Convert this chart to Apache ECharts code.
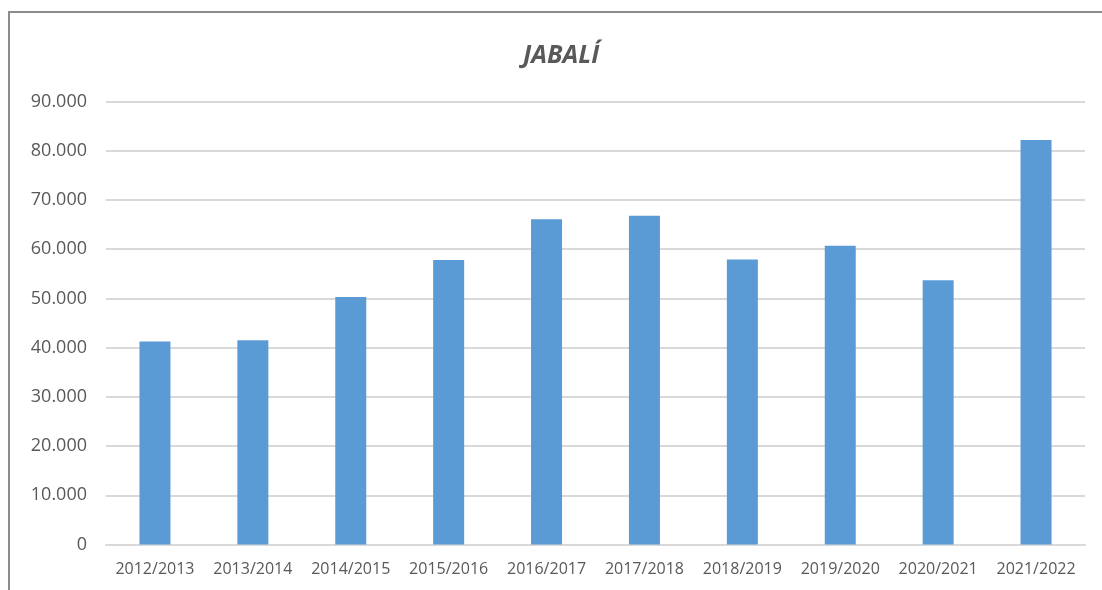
<!DOCTYPE html>
<html>
<head>
<meta charset="utf-8">
<script src="https://cdn.jsdelivr.net/npm/echarts@6/dist/echarts.min.js"></script>
<style>
    html, body { margin: 0; padding: 0; background: #fff; }
    #myChart { width: 1102px; height: 590px; }
</style>
</head>
<body>
<div id="myChart"></div>
<script>
    // temporadas y capturas de jabalí
    var temporadas = ['2012/2013', '2013/2014', '2014/2015', '2015/2016', '2016/2017',
        '2017/2018', '2018/2019', '2019/2020', '2020/2021', '2021/2022'];
    var capturas = [41250, 41500, 50300, 57800, 66100, 66800, 57900, 60700, 53700, 82200];
    var ticksY = [0, 10000, 20000, 30000, 40000, 50000, 60000, 70000, 80000, 90000];

    function fmt(v) {
        return String(v).replace(/\B(?=(\d{3})+(?!\d))/g, '.');
    }

    var myChart = echarts.init(document.getElementById('myChart'));
    myChart.setOption({
        animation: false,
        textStyle: { fontFamily: 'Open Sans, Liberation Sans, sans-serif' },
        title: {
            text: 'JABALÍ',
            left: 518,
            top: 38,
            textStyle: { fontSize: 25, fontWeight: 'bold', fontStyle: 'italic', color: '#595959' }
        },
        graphic: [{
            type: 'rect',
            shape: { x: 9, y: 12, width: 1200, height: 700 },
            style: { fill: 'none', stroke: '#8c8c8c', lineWidth: 2 },
            silent: true
        }],
        grid: { left: 106, right: 17, top: 101.5, bottom: 45.5 },
        xAxis: {
            type: 'category',
            data: temporadas,
            axisLine: { lineStyle: { color: '#d9d9d9', width: 2 } },
            axisTick: { show: false },
            axisLabel: { color: '#595959', fontSize: 16, margin: 17, interval: 0, hideOverlap: false }
        },
        yAxis: {
            type: 'value',
            min: ticksY[0],
            max: ticksY[ticksY.length - 1],
            interval: 10000,
            axisLine: { show: false },
            axisTick: { show: false },
            splitLine: { lineStyle: { color: '#d9d9d9', width: 2 } },
            axisLabel: { color: '#595959', fontSize: 18, margin: 19, formatter: fmt }
        },
        series: [{
            type: 'bar',
            data: capturas,
            barWidth: 31,
            itemStyle: { color: '#5b9bd5' }
        }]
    });
</script>
</body>
</html>
